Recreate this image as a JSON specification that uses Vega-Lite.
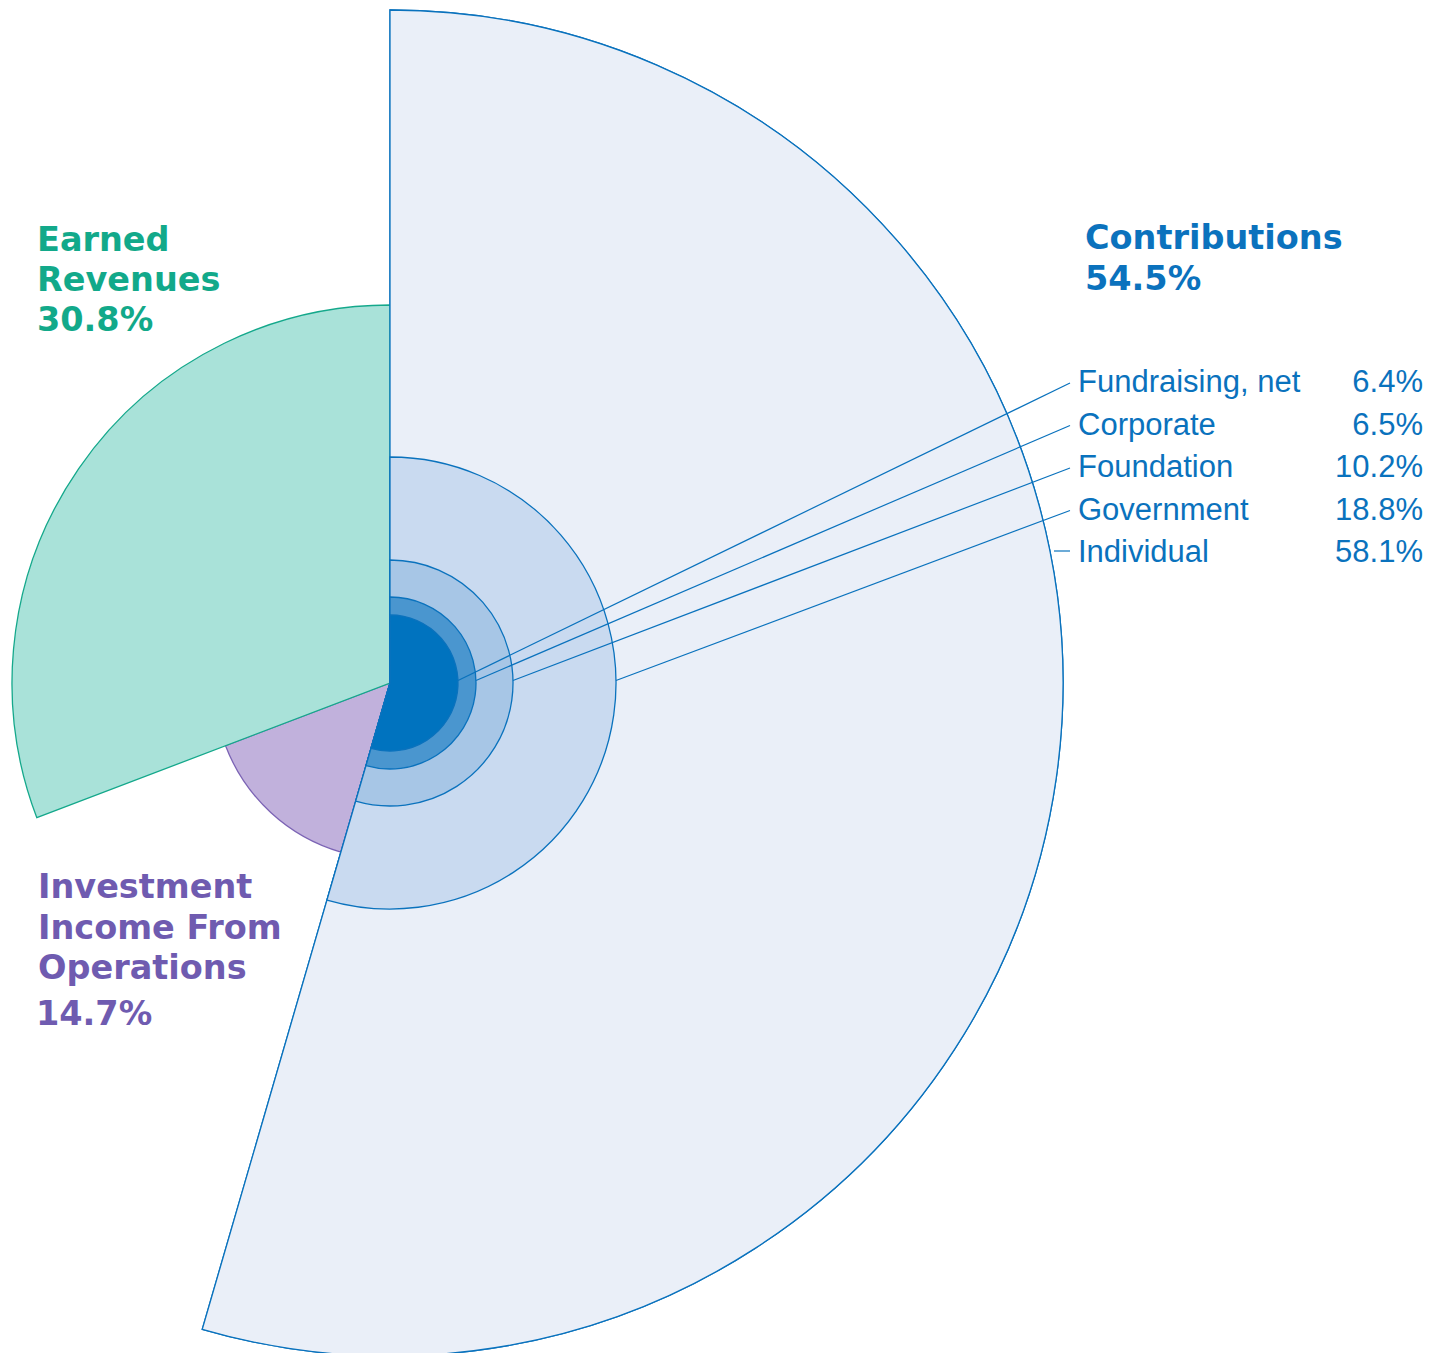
{
  "$schema": "https://vega.github.io/schema/vega-lite/v6.json",
  "width": 780,
  "height": 1340,
  "autosize": {"type": "none"},
  "padding": {"left": 0, "top": 13, "right": 667, "bottom": 0},
  "background": "white",
  "config": {"view": {"stroke": null}},
  "datasets": {
    "sources": [
      {"name": "Contributions", "label": "Contributions", "pct": 0.545, "seq": 1},
      {"name": "Investment Income From Operations", "label": "Investment\nIncome From\nOperations", "pct": 0.147, "seq": 2},
      {"name": "Earned Revenues", "label": "Earned\nRevenues", "pct": 0.308, "seq": 3}
    ],
    "contributions": [
      {"name": "Individual", "pct": 0.581, "share": 0.545, "anchor": "ring"},
      {"name": "Government", "pct": 0.188, "share": 0.545, "anchor": "ring"},
      {"name": "Foundation", "pct": 0.102, "share": 0.545, "anchor": "ring"},
      {"name": "Corporate", "pct": 0.065, "share": 0.545, "anchor": "ring"},
      {"name": "Fundraising, net", "pct": 0.064, "share": 0.545, "anchor": "ring"}
    ]
  },
  "layer": [
    {
      "data": {"name": "sources"},
      "mark": {"type": "arc", "strokeWidth": 1.3},
      "encoding": {
        "theta": {"field": "pct", "type": "quantitative", "stack": true, "scale": {"domain": [0, 1]}},
        "order": {"field": "seq", "type": "quantitative"},
        "radius": {"field": "pct", "type": "quantitative", "scale": {"type": "linear", "domain": [0, 0.147, 0.308, 0.545], "range": [0, 176, 378, 673], "nice": false, "zero": false}},
        "fill": {"field": "name", "type": "nominal", "legend": null,
          "scale": {"domain": ["Contributions", "Investment Income From Operations", "Earned Revenues"], "range": ["#eaeff8", "#c1b1dc", "#a9e2d9"]}},
        "stroke": {"field": "name", "type": "nominal", "legend": null,
          "scale": {"domain": ["Contributions", "Investment Income From Operations", "Earned Revenues"], "range": ["#0a72bd", "#7b63b4", "#14a88b"]}}
      }
    },
    {
      "data": {"name": "contributions"},
      "mark": {"type": "arc", "stroke": "#0a72bd", "strokeWidth": 1.3},
      "encoding": {
        "theta": {"field": "share", "type": "quantitative", "stack": null, "scale": {"domain": [0, 1]}},
        "radius": {"field": "pct", "type": "quantitative", "scale": {"type": "linear", "domain": [0, 0.064, 0.065, 0.102, 0.188, 0.581], "range": [0, 68, 86, 123, 226, 673], "nice": false, "zero": false}},
        "color": {"field": "name", "type": "nominal", "legend": null,
          "scale": {"domain": ["Individual", "Government", "Foundation", "Corporate", "Fundraising, net"], "range": ["#eaeff8", "#c9daf0", "#a7c6e6", "#4a96cf", "#0073bf"]}}
      }
    },
    {
      "data": {"name": "contributions"},
      "transform": [
        {"filter": "datum.name !== 'Individual'"},
        {"fold": ["name", "anchor"], "as": ["yEnd", "yKey"]},
        {"fold": ["pct", "share"], "as": ["xEnd", "xVal"]},
        {"filter": "(datum.yEnd === 'anchor' && datum.xEnd === 'pct') || (datum.yEnd === 'name' && datum.xEnd === 'share')"}
      ],
      "mark": {"type": "line", "color": "#0a72bd", "strokeWidth": 1.2},
      "encoding": {
        "x": {"field": "xVal", "type": "quantitative", "axis": null,
          "scale": {"domain": [0, 0.064, 0.065, 0.102, 0.188, 0.545], "range": [390, 458, 476, 513, 616, 1070], "nice": false, "zero": false}},
        "y": {"field": "yKey", "type": "nominal", "axis": null,
          "scale": {"type": "point", "domain": ["Fundraising, net", "Corporate", "Foundation", "Government", "Individual", "_gap1", "_gap2", "ring"], "range": [370, 667.5], "padding": 0}},
        "detail": {"field": "name", "type": "nominal"}
      }
    },
    {
      "data": {"name": "contributions"},
      "mark": {"type": "text", "align": "left", "baseline": "alphabetic", "dy": 9, "x": 1078, "font": "Liberation Sans", "fontSize": 31, "color": "#0a72bd"},
      "encoding": {
        "y": {"field": "name", "type": "nominal", "axis": null,
          "scale": {"type": "point", "domain": ["Fundraising, net", "Corporate", "Foundation", "Government", "Individual", "_gap1", "_gap2", "ring"], "range": [370, 667.5], "padding": 0}},
        "text": {"field": "name", "type": "nominal"}
      }
    },
    {
      "data": {"name": "contributions"},
      "mark": {"type": "text", "align": "right", "baseline": "alphabetic", "dy": 9, "x": 1423, "font": "Liberation Sans", "fontSize": 31, "color": "#0a72bd"},
      "encoding": {
        "y": {"field": "name", "type": "nominal", "axis": null},
        "text": {"field": "pct", "type": "quantitative", "format": ".1%"}
      }
    },
    {
      "data": {"name": "contributions"},
      "transform": [{"filter": "datum.name === 'Individual'"}],
      "mark": {"type": "rule", "color": "#0a72bd", "strokeWidth": 1.2, "yOffset": -2},
      "encoding": {
        "y": {"field": "name", "type": "nominal", "axis": null},
        "x": {"value": 1054},
        "x2": {"value": 1070}
      }
    },
    {
      "data": {"name": "sources"},
      "transform": [{"filter": "datum.name === 'Contributions'"}],
      "mark": {"type": "text", "align": "left", "baseline": "alphabetic", "x": 1085, "y": 236, "font": "DejaVu Sans", "fontWeight": "bold", "fontSize": 33.5, "color": "#0b72bd", "lineBreak": "\n", "lineHeight": 41},
      "encoding": {"text": {"field": "label", "type": "nominal"}}
    },
    {
      "data": {"name": "sources"},
      "transform": [{"filter": "datum.name === 'Contributions'"}],
      "mark": {"type": "text", "align": "left", "baseline": "alphabetic", "x": 1085, "y": 277, "font": "DejaVu Sans", "fontWeight": "bold", "fontSize": 33.5, "color": "#0b72bd"},
      "encoding": {"text": {"field": "pct", "type": "quantitative", "format": ".1%"}}
    },
    {
      "data": {"name": "sources"},
      "transform": [{"filter": "datum.name === 'Earned Revenues'"}],
      "mark": {"type": "text", "align": "left", "baseline": "alphabetic", "x": 37, "y": 238, "font": "DejaVu Sans", "fontWeight": "bold", "fontSize": 33.5, "color": "#12a98a", "lineBreak": "\n", "lineHeight": 40},
      "encoding": {"text": {"field": "label", "type": "nominal"}}
    },
    {
      "data": {"name": "sources"},
      "transform": [{"filter": "datum.name === 'Earned Revenues'"}],
      "mark": {"type": "text", "align": "left", "baseline": "alphabetic", "x": 37, "y": 318, "font": "DejaVu Sans", "fontWeight": "bold", "fontSize": 33.5, "color": "#12a98a"},
      "encoding": {"text": {"field": "pct", "type": "quantitative", "format": ".1%"}}
    },
    {
      "data": {"name": "sources"},
      "transform": [{"filter": "datum.name === 'Investment Income From Operations'"}],
      "mark": {"type": "text", "align": "left", "baseline": "alphabetic", "x": 38, "y": 885, "font": "DejaVu Sans", "fontWeight": "bold", "fontSize": 33.5, "color": "#6f5bb0", "lineBreak": "\n", "lineHeight": 40.5},
      "encoding": {"text": {"field": "label", "type": "nominal"}}
    },
    {
      "data": {"name": "sources"},
      "transform": [{"filter": "datum.name === 'Investment Income From Operations'"}],
      "mark": {"type": "text", "align": "left", "baseline": "alphabetic", "x": 36, "y": 1012, "font": "DejaVu Sans", "fontWeight": "bold", "fontSize": 33.5, "color": "#6f5bb0"},
      "encoding": {"text": {"field": "pct", "type": "quantitative", "format": ".1%"}}
    }
  ],
  "resolve": {"scale": {"radius": "independent"}}
}
